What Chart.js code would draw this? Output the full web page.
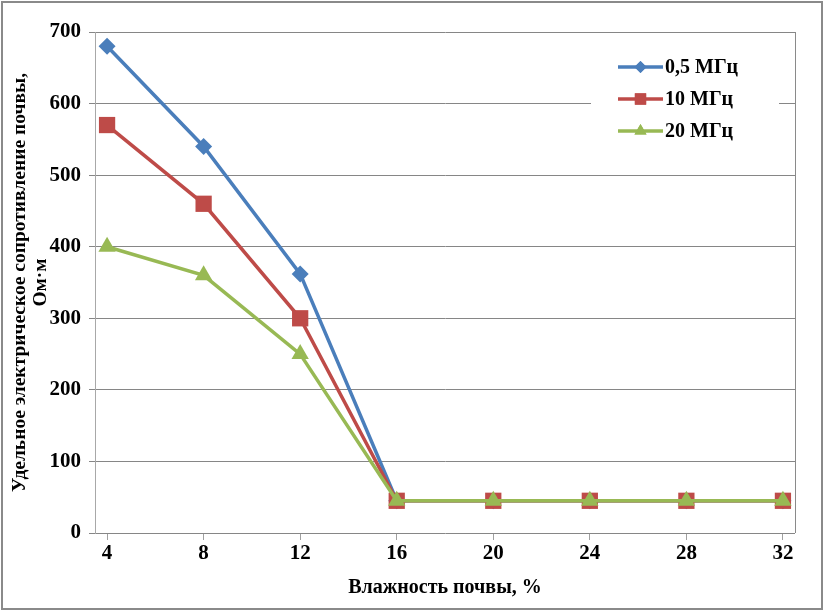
<!DOCTYPE html>
<html><head><meta charset="utf-8">
<script src="https://cdn.jsdelivr.net/npm/chart.js@4.4.1/dist/chart.umd.min.js"></script>
<style>html,body{margin:0;padding:0;background:#fff}#wrap{width:824px;height:611px;position:relative}</style>
</head><body><div id="wrap"><canvas id="c" width="824" height="611"></canvas></div>
<script>
// ---- data ----
const moisture = [4, 8, 12, 16, 20, 24, 28, 32];
const series05 = [680, 540, 362, 45, 45, 45, 45, 45];
const series10 = [570, 460, 300, 45, 45, 45, 45, 45];
const series20 = [400, 360, 250, 45, 45, 45, 45, 45];
const seriesNames = ['0,5 МГц', '10 МГц', '20 МГц'];
const yTickValues = [0, 100, 200, 300, 400, 500, 600, 700];
const xTitle = 'Влажность почвы, %';
const yTitle = ['Удельное электрическое сопротивление почвы,', 'Ом·м'];

const FONT = "'Liberation Serif', 'Times New Roman', serif";
const colors = ['#4a7ebb', '#be4b48', '#98b954'];
const shapes = ['rectRot', 'rect', 'triangle'];
const radii = [8.5, 11.5, 10];

function pts(arr){ return moisture.map((x, i) => ({x: x, y: arr[i]})); }
const allSeries = [series05, series10, series20];

const datasets = allSeries.map((s, i) => ({
  label: seriesNames[i],
  data: pts(s),
  borderColor: colors[i],
  backgroundColor: colors[i],
  borderWidth: 3.5,
  pointStyle: shapes[i],
  pointRadius: radii[i],
  pointHoverRadius: radii[i],
  pointBorderWidth: 0,
  pointBackgroundColor: colors[i],
  tension: 0,
  order: 3 - i
}));

const framePlugin = {
  id: 'frame',
  beforeDraw(chart){
    const ctx = chart.ctx;
    ctx.save();
    ctx.fillStyle = '#fff';
    ctx.fillRect(0, 0, chart.width, chart.height);
    ctx.strokeStyle = '#8a8a8a';
    ctx.lineWidth = 2;
    ctx.strokeRect(2, 2, chart.width - 4, chart.height - 4);
    ctx.restore();
  },
  afterDraw(chart){
    const a = chart.chartArea, ctx = chart.ctx;
    ctx.save();
    ctx.strokeStyle = '#8a8a8a';
    ctx.lineWidth = 1;
    ctx.beginPath();
    ctx.moveTo(Math.round(a.right) + 0.5, a.top);
    ctx.lineTo(Math.round(a.right) + 0.5, a.bottom);
    ctx.stroke();
    ctx.restore();
  }
};

const legendPlugin = {
  id: 'insideLegend',
  afterDatasetsDraw(chart){
    const ctx = chart.ctx;
    ctx.save();
    ctx.fillStyle = '#fff';
    ctx.fillRect(591, 46, 188, 110);
    ctx.font = 'bold 20px ' + FONT;
    ctx.textBaseline = 'middle';
    ctx.textAlign = 'left';
    const rows = [67, 99, 131];
    seriesNames.forEach((name, i) => {
      const y = rows[i];
      ctx.strokeStyle = colors[i];
      ctx.lineWidth = 3.5;
      ctx.beginPath();
      ctx.moveTo(618, y); ctx.lineTo(663, y);
      ctx.stroke();
      ctx.fillStyle = colors[i];
      Chart.helpers.drawPoint(ctx, {pointStyle: shapes[i], radius: [6, 8, 7][i], rotation: 0, borderWidth: 0}, 640.5, y);
      ctx.fill();
      ctx.fillStyle = '#000';
      ctx.fillText(name, 665, y + 1);
    });
    ctx.restore();
  }
};

new Chart(document.getElementById('c'), {
  type: 'line',
  data: { datasets: datasets },
  plugins: [framePlugin, legendPlugin],
  options: {
    responsive: false,
    animation: false,
    devicePixelRatio: 1,
    layout: { padding: { top: 32, right: 29, left: 0, bottom: 0 } },
    plugins: { legend: { display: false }, tooltip: { enabled: false } },
    scales: {
      x: {
        type: 'linear',
        min: 3.5, max: 32.5,
        afterBuildTicks(scale){ scale.ticks = moisture.map(v => ({value: v})); },
        afterFit(scale){ scale.height = 78; },
        grid: { drawOnChartArea: false, drawTicks: true, tickLength: 7, color: '#a0a0a0' },
        border: { display: false },
        ticks: { color: '#000', font: { family: FONT, size: 21, weight: 'bold' }, padding: 1, maxRotation: 0, autoSkip: false },
        title: { display: true, text: xTitle, color: '#000', font: { family: FONT, size: 20, weight: 'bold' }, padding: { top: 10, bottom: 11 } }
      },
      y: {
        min: 0, max: 700,
        afterBuildTicks(scale){ scale.ticks = yTickValues.map(v => ({value: v})); },
        afterFit(scale){ scale.width = 95; },
        grid: { color: '#868686', lineWidth: 1, tickLength: 6 },
        border: { display: true, color: '#a8a8a8', width: 1 },
        ticks: { color: '#000', font: { family: FONT, size: 21, weight: 'bold' }, padding: 8 },
        title: { display: true, text: yTitle, color: '#000', font: { family: FONT, size: 19.5, weight: 'bold', lineHeight: 1.05 }, padding: { top: 10, bottom: 0 } }
      }
    }
  }
});
</script>
</body></html>
